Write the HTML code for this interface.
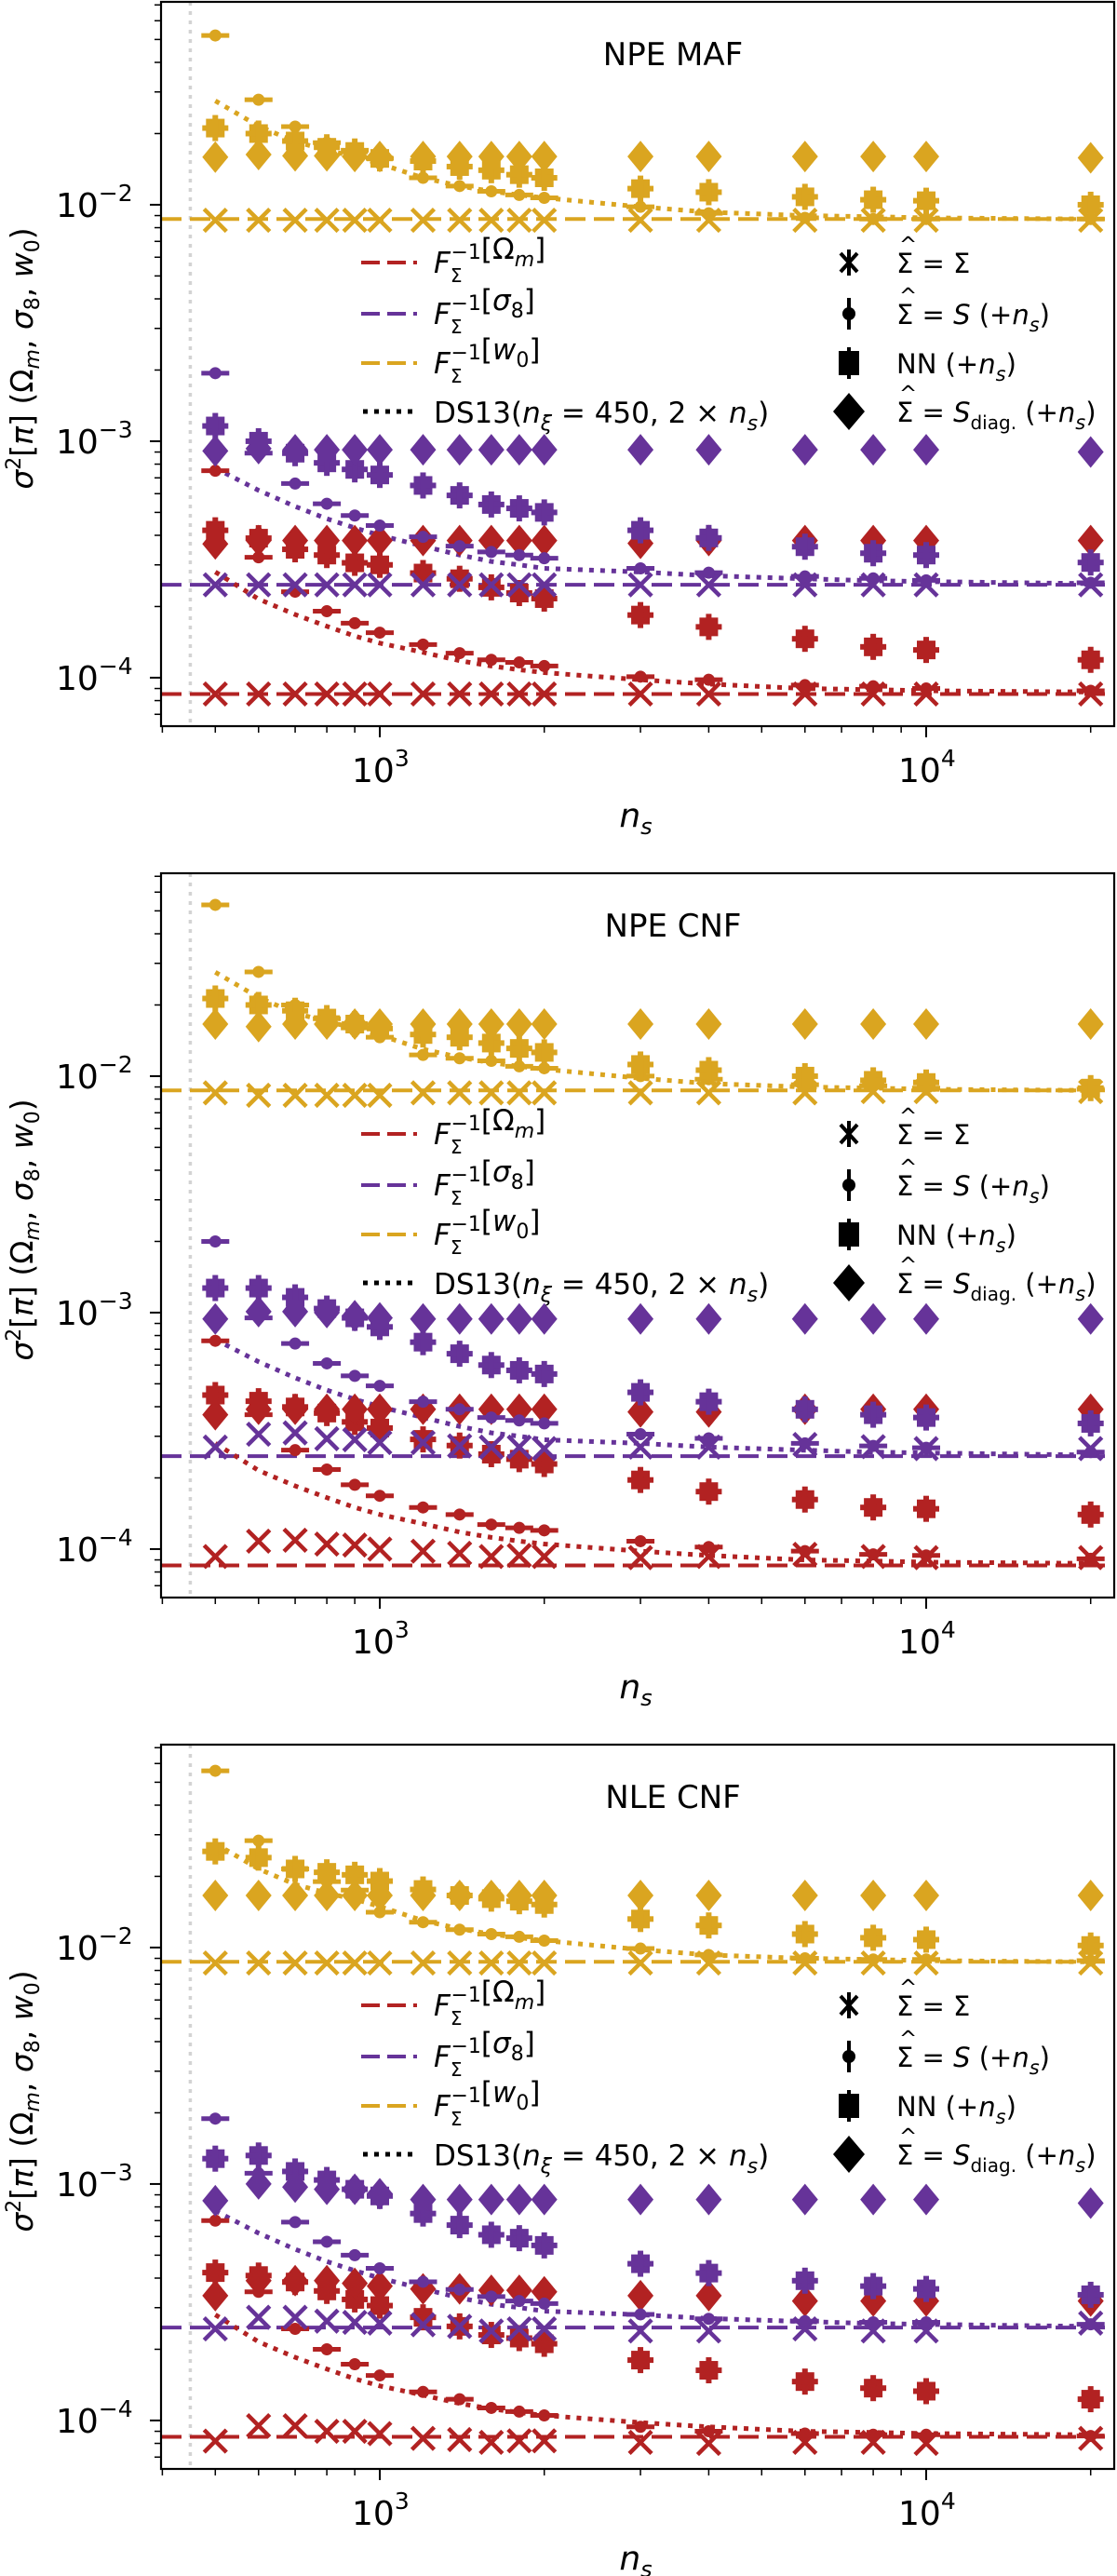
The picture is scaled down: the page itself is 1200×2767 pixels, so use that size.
<!DOCTYPE html>
<html><head><meta charset="utf-8">
<style>
html,body{margin:0;padding:0;background:#fff;}
svg{display:block;font-family:"DejaVu Sans","Liberation Sans",sans-serif;}
</style></head>
<body>
<svg id="fig" xmlns="http://www.w3.org/2000/svg" width="1200" height="2767" viewBox="0 0 1200 2767"></svg>
<script>
const nsValues = [500,600,700,800,900,1000,1200,1400,1600,1800,2000,3000,4000,6000,8000,10000,20000];
const panelTitles = ["NPE MAF","NPE CNF","NLE CNF"];
const fisherOm = 0.0000853, fisherS8 = 0.000247, fisherW0 = 0.0087;
const dsOm = [0.00028,0.000215,0.000185,0.000165,0.00015,0.00014,0.000128,0.000118,0.000112,0.000108,0.000105,0.000098,0.000094,0.00009,0.000089,0.000088,0.000087];
const dsS8 = [0.00077,0.00062,0.00053,0.00047,0.00043,0.0004,0.00036,0.00033,0.00031,0.0003,0.00029,0.00028,0.00027,0.000262,0.000257,0.000255,0.00025];
const dsW0 = [0.0275,0.0215,0.0185,0.017,0.016,0.0149,0.013,0.012,0.0114,0.011,0.0107,0.0098,0.0093,0.009,0.0089,0.0088,0.0087];
const yTickExps = [-2,-3,-4];
const xTickExps = [3,4];

// Panel 1: NPE MAF
const p1OmCross = [0.0000853,0.0000853,0.0000853,0.0000853,0.0000853,0.0000853,0.0000853,0.0000853,0.0000853,0.0000853,0.0000853,0.0000853,0.0000853,0.0000853,0.0000853,0.0000853,0.0000853];
const p1OmCirc = [0.00075,0.000323,0.000231,0.000191,0.00017,0.000155,0.000138,0.000127,0.000119,0.000116,0.000112,0.000101,0.000098,0.000093,0.000092,0.00009,0.000088];
const p1OmSq = [0.00042,0.000389,0.000349,0.00033,0.000306,0.0003,0.000277,0.000262,0.000241,0.000228,0.000216,0.000184,0.000164,0.000146,0.000135,0.000131,0.000119];
const p1OmDia = [0.000368,0.00038,0.00038,0.00038,0.00038,0.00038,0.00038,0.00038,0.00038,0.00038,0.00038,0.00037,0.00038,0.00038,0.00038,0.00038,0.00038];
const p1S8Cross = [0.000247,0.000247,0.000247,0.000247,0.000247,0.000247,0.000247,0.000247,0.000247,0.000247,0.000247,0.000247,0.000247,0.000247,0.000247,0.000247,0.000247];
const p1S8Circ = [0.00194,0.00089,0.000662,0.000544,0.000485,0.00044,0.000394,0.00036,0.00034,0.00033,0.00032,0.00029,0.000278,0.000268,0.000263,0.000258,0.000252];
const p1S8Sq = [0.00116,0.001,0.00089,0.00081,0.00076,0.00072,0.00065,0.00059,0.00054,0.00052,0.0005,0.00042,0.00039,0.000358,0.000336,0.00033,0.000307];
const p1S8Dia = [0.00091,0.00093,0.00092,0.00092,0.00092,0.00092,0.00092,0.00092,0.00092,0.00092,0.00092,0.00092,0.00092,0.00092,0.00092,0.00092,0.0009];
const p1W0Cross = [0.0086,0.0086,0.0086,0.0086,0.0086,0.0086,0.0086,0.0086,0.0086,0.0086,0.0086,0.0086,0.0086,0.0086,0.0086,0.0086,0.0086];
const p1W0Circ = [0.052,0.0278,0.0214,0.0183,0.017,0.0157,0.013,0.012,0.0114,0.011,0.0107,0.0098,0.0092,0.0088,0.0087,0.0087,0.0087];
const p1W0Sq = [0.0211,0.02,0.0186,0.0175,0.0168,0.0157,0.0153,0.0145,0.014,0.0134,0.013,0.0117,0.0113,0.0108,0.0105,0.0104,0.01];
const p1W0Dia = [0.0159,0.0163,0.0161,0.0161,0.016,0.016,0.016,0.016,0.016,0.016,0.016,0.016,0.016,0.016,0.016,0.016,0.0158];

// Panel 2: NPE CNF
const p2OmCross = [0.000093,0.000108,0.000109,0.000105,0.000104,0.0001,0.000098,0.000096,0.000093,0.000094,0.000093,0.000092,0.000093,0.000095,0.000093,0.000092,0.000092];
const p2OmCirc = [0.00076,0.00037,0.000262,0.000217,0.000187,0.000168,0.00015,0.00014,0.000127,0.000123,0.00012,0.000108,0.000102,0.000098,0.000095,0.000094,0.000091];
const p2OmSq = [0.000448,0.000422,0.000399,0.000376,0.000345,0.000325,0.000291,0.000274,0.000252,0.00024,0.000229,0.000196,0.000175,0.000162,0.00015,0.000148,0.00014];
const p2OmDia = [0.00037,0.00039,0.00039,0.00039,0.00039,0.00039,0.00039,0.00039,0.00039,0.00039,0.00039,0.00038,0.00038,0.00039,0.00039,0.00039,0.00039];
const p2S8Cross = [0.00027,0.000306,0.00031,0.000293,0.00029,0.000282,0.000282,0.000273,0.00027,0.00027,0.000266,0.00027,0.00027,0.000277,0.000271,0.000266,0.000266];
const p2S8Circ = [0.002,0.00095,0.00074,0.00061,0.00054,0.00049,0.00042,0.00039,0.00036,0.00035,0.00034,0.000306,0.000294,0.00028,0.000273,0.000268,0.000257];
const p2S8Sq = [0.00127,0.00127,0.00116,0.00104,0.00095,0.00087,0.00075,0.00067,0.0006,0.00057,0.00055,0.00046,0.00042,0.00039,0.00037,0.00036,0.00034];
const p2S8Dia = [0.00094,0.00101,0.00101,0.001,0.00097,0.00095,0.00094,0.00094,0.00094,0.00094,0.00094,0.00094,0.00094,0.00094,0.00094,0.00094,0.00094];
const p2W0Cross = [0.0085,0.0083,0.0083,0.0083,0.0083,0.0083,0.0085,0.0085,0.0085,0.0085,0.0085,0.0085,0.0085,0.0085,0.0086,0.0086,0.0086];
const p2W0Circ = [0.053,0.0276,0.02,0.0175,0.016,0.0146,0.0123,0.0119,0.0116,0.011,0.0108,0.01,0.0097,0.0092,0.0091,0.0089,0.0088];
const p2W0Sq = [0.0213,0.02,0.0189,0.0176,0.0166,0.0159,0.015,0.0146,0.0138,0.0131,0.0126,0.0112,0.0106,0.01,0.0096,0.0094,0.0089];
const p2W0Dia = [0.0166,0.0162,0.0166,0.0166,0.0166,0.0166,0.0166,0.0166,0.0166,0.0166,0.0166,0.0166,0.0166,0.0166,0.0166,0.0166,0.0166];

// Panel 3: NLE CNF
const p3OmCross = [0.0000818,0.000095,0.000095,0.00009,0.00009,0.000088,0.000084,0.000083,0.0000808,0.000082,0.000082,0.0000808,0.00008,0.0000808,0.0000808,0.00008,0.000084];
const p3OmCirc = [0.0007,0.00035,0.000244,0.0002,0.000173,0.000155,0.000132,0.000123,0.000113,0.000109,0.000105,0.000094,0.00009,0.000088,0.000087,0.000087,0.000086];
const p3OmSq = [0.000422,0.00041,0.000385,0.000353,0.000325,0.000306,0.000273,0.00025,0.00023,0.000223,0.000211,0.00018,0.000163,0.000146,0.000137,0.000133,0.000123];
const p3OmDia = [0.000337,0.00039,0.00039,0.00039,0.00038,0.00037,0.00036,0.00036,0.000355,0.000355,0.00035,0.000337,0.000337,0.00032,0.00032,0.00032,0.00032];
const p3S8Cross = [0.000244,0.000273,0.000273,0.000263,0.00026,0.000258,0.000254,0.00025,0.000239,0.000244,0.000244,0.000239,0.000239,0.000244,0.000239,0.000239,0.000258];
const p3S8Circ = [0.00189,0.00111,0.00069,0.00057,0.0005,0.00044,0.000386,0.000358,0.000334,0.00032,0.000312,0.000281,0.000269,0.000263,0.00026,0.00026,0.000255];
const p3S8Sq = [0.00128,0.00132,0.00113,0.00104,0.00095,0.00089,0.00075,0.00067,0.00061,0.00059,0.00055,0.00046,0.00042,0.00039,0.00037,0.00036,0.00034];
const p3S8Dia = [0.00085,0.001,0.00097,0.00095,0.00095,0.00091,0.00086,0.00086,0.00086,0.00086,0.00086,0.00086,0.00086,0.00086,0.00086,0.00086,0.00083];
const p3W0Cross = [0.0086,0.0086,0.0086,0.0086,0.0086,0.0086,0.0086,0.0086,0.0086,0.0086,0.0086,0.0086,0.0086,0.0086,0.0086,0.0086,0.0086];
const p3W0Circ = [0.0559,0.0283,0.0215,0.019,0.0175,0.0141,0.0128,0.0119,0.0114,0.0111,0.0107,0.0099,0.0093,0.009,0.0089,0.0089,0.0088];
const p3W0Sq = [0.0255,0.024,0.0215,0.0208,0.0203,0.0191,0.0176,0.0166,0.0161,0.0157,0.0152,0.0132,0.0124,0.0114,0.011,0.0108,0.0102];
const p3W0Dia = [0.0166,0.0166,0.0166,0.0166,0.0166,0.0166,0.0166,0.0166,0.0166,0.0166,0.0166,0.0166,0.0166,0.0166,0.0166,0.0166,0.0166];

const NS = "http://www.w3.org/2000/svg";
const svg = document.getElementById('fig');
const RED = "#b22222", PUR = "#663399", GOLD = "#daa520";
const AX_L = 173, AX_R = 1197, PH = 778;
const panelTops = [2, 938, 1874];
const LOGYTOP = -1.142;

function mk(tag, attrs, parent) {
  const e = document.createElementNS(NS, tag);
  for (const k in attrs) e.setAttribute(k, attrs[k]);
  (parent || svg).appendChild(e);
  return e;
}
function xPx(v) { return 408 + 587 * (Math.log10(v) - 3); }
function yPx(top, v) { return top + 254 * (LOGYTOP - Math.log10(v)); }

function drawMarker(g, kind, x, y, color) {
  let e;
  if (kind === 'cross') {
    e = mk('path', {d:`M${x-12},${y-12}L${x+12},${y+12}M${x-12},${y+12}L${x+12},${y-12}`, stroke:color, 'stroke-width':4.5, fill:'none'}, g);
    
  } else if (kind === 'circ') {
    e = mk('g', {}, g);
    mk('line', {x1:x-15, x2:x+15, y1:y, y2:y, stroke:color, 'stroke-width':5}, e);
    mk('circle', {cx:x, cy:y, r:6.5, fill:color}, e);
    
  } else if (kind === 'sq') {
    e = mk('g', {}, g);
    mk('rect', {x:x-10, y:y-10, width:20, height:20, fill:color}, e);
    mk('rect', {x:x-14, y:y-3, width:28, height:6, fill:color}, e);
    mk('rect', {x:x-3, y:y-14, width:6, height:28, fill:color}, e);
    
  } else {
    e = mk('polygon', {points:`${x},${y-17} ${x+14},${y} ${x},${y+17} ${x-14},${y}`, fill:color}, g);
    
  }
  
}

function drawSeries(g, top, arr, kind, color) {
  for (let i = 0; i < nsValues.length; i++) drawMarker(g, kind, xPx(nsValues[i]), yPx(top, arr[i]), color);
}
function drawDotted(g, top, arr, color, name) {
  let d = '';
  for (let i = 0; i < nsValues.length; i++) d += (i ? 'L' : 'M') + xPx(nsValues[i]).toFixed(1) + ',' + yPx(top, arr[i]).toFixed(1);
  const p = mk('path', {d, stroke:color, 'stroke-width':5, fill:'none', 'stroke-dasharray':'5,7'}, g);
  
  
}
function drawFisher(g, top, v, color, name) {
  const y = yPx(top, v);
  const l = mk('line', {x1:AX_L, x2:AX_R, y1:y, y2:y, stroke:color, 'stroke-width':4, 'stroke-dasharray':'22,9'}, g);
  
  
}

function mathText(parent, x, y, parts, size, anchor) {
  const t = mk('text', {x, y, 'font-size':size, fill:'#000', 'text-anchor':anchor || 'start'}, parent);
  for (const p of parts) {
    const s = mk('tspan', {}, t);
    if (p.i) s.setAttribute('font-style', 'italic');
    if (p.fs) s.setAttribute('font-size', p.fs);
    if (p.dy) s.setAttribute('dy', p.dy);
    if (p.dx) s.setAttribute('dx', p.dx);
    s.textContent = p.t;
  }
  return t;
}
function sigmaHat(parent, x, y, size) {
  const h = mk('text', {x:x + size*0.1, y:y - size*0.78, 'font-size':size*0.8, fill:'#000'}, parent);
  h.textContent = '^';
}

const dataSets = [
  [p1OmCross,p1OmCirc,p1OmSq,p1OmDia,p1S8Cross,p1S8Circ,p1S8Sq,p1S8Dia,p1W0Cross,p1W0Circ,p1W0Sq,p1W0Dia],
  [p2OmCross,p2OmCirc,p2OmSq,p2OmDia,p2S8Cross,p2S8Circ,p2S8Sq,p2S8Dia,p2W0Cross,p2W0Circ,p2W0Sq,p2W0Dia],
  [p3OmCross,p3OmCirc,p3OmSq,p3OmDia,p3S8Cross,p3S8Circ,p3S8Sq,p3S8Dia,p3W0Cross,p3W0Circ,p3W0Sq,p3W0Dia]
];

panelTops.forEach((top, pi) => {
  const panel = mk('g', {});
  
  
  const cid = 'clip' + pi;
  const cp = mk('clipPath', {id:cid}, panel);
  mk('rect', {x:AX_L, y:top, width:AX_R-AX_L, height:PH}, cp);
  const plot = mk('g', {'clip-path':`url(#${cid})`}, panel);
  
  

  const vx = xPx(450);
  const vl = mk('line', {x1:vx, x2:vx, y1:top, y2:top+PH, stroke:'#d3d3d3', 'stroke-width':3.5, 'stroke-dasharray':'4,6'}, plot);
  
  

  drawFisher(plot, top, fisherOm, RED, 'fisher-omega-m-line');
  drawFisher(plot, top, fisherS8, PUR, 'fisher-sigma8-line');
  drawFisher(plot, top, fisherW0, GOLD, 'fisher-w0-line');
  drawDotted(plot, top, dsOm, RED, 'ds13-omega-m-curve');
  drawDotted(plot, top, dsS8, PUR, 'ds13-sigma8-curve');
  drawDotted(plot, top, dsW0, GOLD, 'ds13-w0-curve');

  const ds = dataSets[pi];
  const cols = [RED, PUR, GOLD];
  const kinds = ['cross','circ','sq','dia'];
  for (let c = 0; c < 3; c++) for (let k = 0; k < 4; k++) drawSeries(plot, top, ds[c*4+k], kinds[k], cols[c]);

  const fr = mk('rect', {x:AX_L, y:top, width:AX_R-AX_L, height:PH, fill:'none', stroke:'#000', 'stroke-width':2.2}, panel);
  
  

  const yAx = mk('g', {}, panel);
  
  
  for (let e = -5; e <= -1; e++) for (let m = 1; m <= 9; m++) {
    const v = m * Math.pow(10, e);
    const y = yPx(top, v);
    if (y < top - 0.5 || y > top + PH + 0.5) continue;
    const len = m === 1 ? 12 : 7;
    mk('line', {x1:AX_L-len, x2:AX_L, y1:y, y2:y, stroke:'#000', 'stroke-width':m === 1 ? 2 : 1.5}, yAx);
  }
  yTickExps.forEach(e => {
    const y = yPx(top, Math.pow(10, e));
    const t = mathText(yAx, 60, y + 13, [{t:'10'}, {t:'−' + (-e), fs:25, dy:-17}], 36, 'start');
    
    
  });

  const xAx = mk('g', {}, panel);
  
  
  for (let e = 2; e <= 4; e++) for (let m = 1; m <= 9; m++) {
    const v = m * Math.pow(10, e);
    const x = xPx(v);
    if (x < AX_L - 0.5 || x > AX_R + 0.5) continue;
    const len = m === 1 ? 12 : 7;
    mk('line', {x1:x, x2:x, y1:top+PH, y2:top+PH+len, stroke:'#000', 'stroke-width':m === 1 ? 2 : 1.5}, xAx);
  }
  xTickExps.forEach(e => {
    const x = xPx(Math.pow(10, e));
    const t = mathText(xAx, x - 30, top + PH + 60, [{t:'10'}, {t:String(e), fs:25, dy:-17}], 36, 'start');
    
    
  });
  const xl = mathText(panel, 683, top + PH + 108, [{t:'n', i:1}, {t:'s', i:1, fs:24, dy:8}], 36, 'middle');
  
  

  const yl = mathText(panel, 0, 0, [{t:'σ', i:1}, {t:'2', fs:22, dy:-13}, {t:'[', dy:13}, {t:'π', i:1}, {t:'] (Ω'}, {t:'m', i:1, fs:22, dy:7}, {t:', ', dy:-7}, {t:'σ', i:1}, {t:'8', fs:22, dy:7}, {t:', ', dy:-7}, {t:'w', i:1}, {t:'0', fs:22, dy:7}, {t:')', dy:-7}], 33, 'middle');
  yl.setAttribute('transform', `translate(35,${top+383}) rotate(-90)`);
  
  

  const tt = mk('text', {x:723, y:top+68, 'font-size':34, 'text-anchor':'middle', fill:'#000'}, panel);
  tt.textContent = panelTitles[pi];
  
  

  const lg = mk('g', {}, panel);
  
  
  const rows = [top+280, top+335, top+388, top+440];
  const lcols = [RED, PUR, GOLD];
  const labs = [[{t:'[Ω'}, {t:'m', i:1, fs:22, dy:8}, {t:']', dy:-8}], [{t:'['}, {t:'σ', i:1}, {t:'8', fs:22, dy:8}, {t:']', dy:-8}], [{t:'['}, {t:'w', i:1}, {t:'0', fs:22, dy:8}, {t:']', dy:-8}]];
  for (let r = 0; r < 3; r++) {
    const e1 = mk('line', {x1:388, x2:448, y1:rows[r], y2:rows[r], stroke:lcols[r], 'stroke-width':4, 'stroke-dasharray':'20,8'}, lg);
    
    
    const t = mathText(lg, 466, rows[r] + 11, [{t:'F', i:1}, {t:'Σ', fs:20, dy:10}, {t:'−1', fs:22, dx:-12, dy:-25}].concat([{t:'', dy:15}]).concat(labs[r]), 31);
    
    
  }
  const dl = mk('line', {x1:390, x2:448, y1:rows[3], y2:rows[3], stroke:'#000', 'stroke-width':5, 'stroke-dasharray':'5,7'}, lg);
  
  
  const t4 = mathText(lg, 466, rows[3] + 12, [{t:'DS13('}, {t:'n', i:1}, {t:'ξ', i:1, fs:22, dy:8}, {t:' = 450, 2 × ', dy:-8}, {t:'n', i:1}, {t:'s', i:1, fs:22, dy:8}, {t:')', dy:-8}], 31);
  
  

  const mx = 912;
  const m1 = mk('path', {d:`M${mx},${rows[0]-14}L${mx},${rows[0]+14}M${mx-9},${rows[0]-10}L${mx+9},${rows[0]+10}M${mx-9},${rows[0]+10}L${mx+9},${rows[0]-10}`, stroke:'#000', 'stroke-width':4, fill:'none'}, lg);
  
  
  const m2 = mk('g', {}, lg);
  mk('line', {x1:mx, x2:mx, y1:rows[1]-17, y2:rows[1]+17, stroke:'#000', 'stroke-width':4}, m2);
  mk('circle', {cx:mx, cy:rows[1], r:7, fill:'#000'}, m2);
  
  
  const m3 = mk('g', {}, lg);
  mk('rect', {x:mx-11, y:rows[2]-13, width:22, height:26, fill:'#000'}, m3);
  mk('rect', {x:mx-2, y:rows[2]-17, width:4, height:34, fill:'#000'}, m3);
  
  
  const m4 = mk('polygon', {points:`${mx},${rows[3]-20} ${mx+17},${rows[3]} ${mx},${rows[3]+20} ${mx-17},${rows[3]}`, fill:'#000'}, lg);
  
  

  const rl = [
    [{t:'Σ = Σ'}],
    [{t:'Σ = '}, {t:'S', i:1}, {t:' (+'}, {t:'n', i:1}, {t:'s', i:1, fs:21, dy:8}, {t:')', dy:-8}],
    [{t:'NN (+'}, {t:'n', i:1}, {t:'s', i:1, fs:21, dy:8}, {t:')', dy:-8}],
    [{t:'Σ = '}, {t:'S', i:1}, {t:'diag.', fs:20, dy:8}, {t:' (+', dy:-8}, {t:'n', i:1}, {t:'s', i:1, fs:21, dy:8}, {t:')', dy:-8}]
  ];
  for (let r = 0; r < 4; r++) {
    const t = mathText(lg, 963, rows[r] + 11, rl[r], 29);
    
    
    if (r !== 2) sigmaHat(lg, 963, rows[r] + 11, 29);
  }
});
</script>
</body></html>
